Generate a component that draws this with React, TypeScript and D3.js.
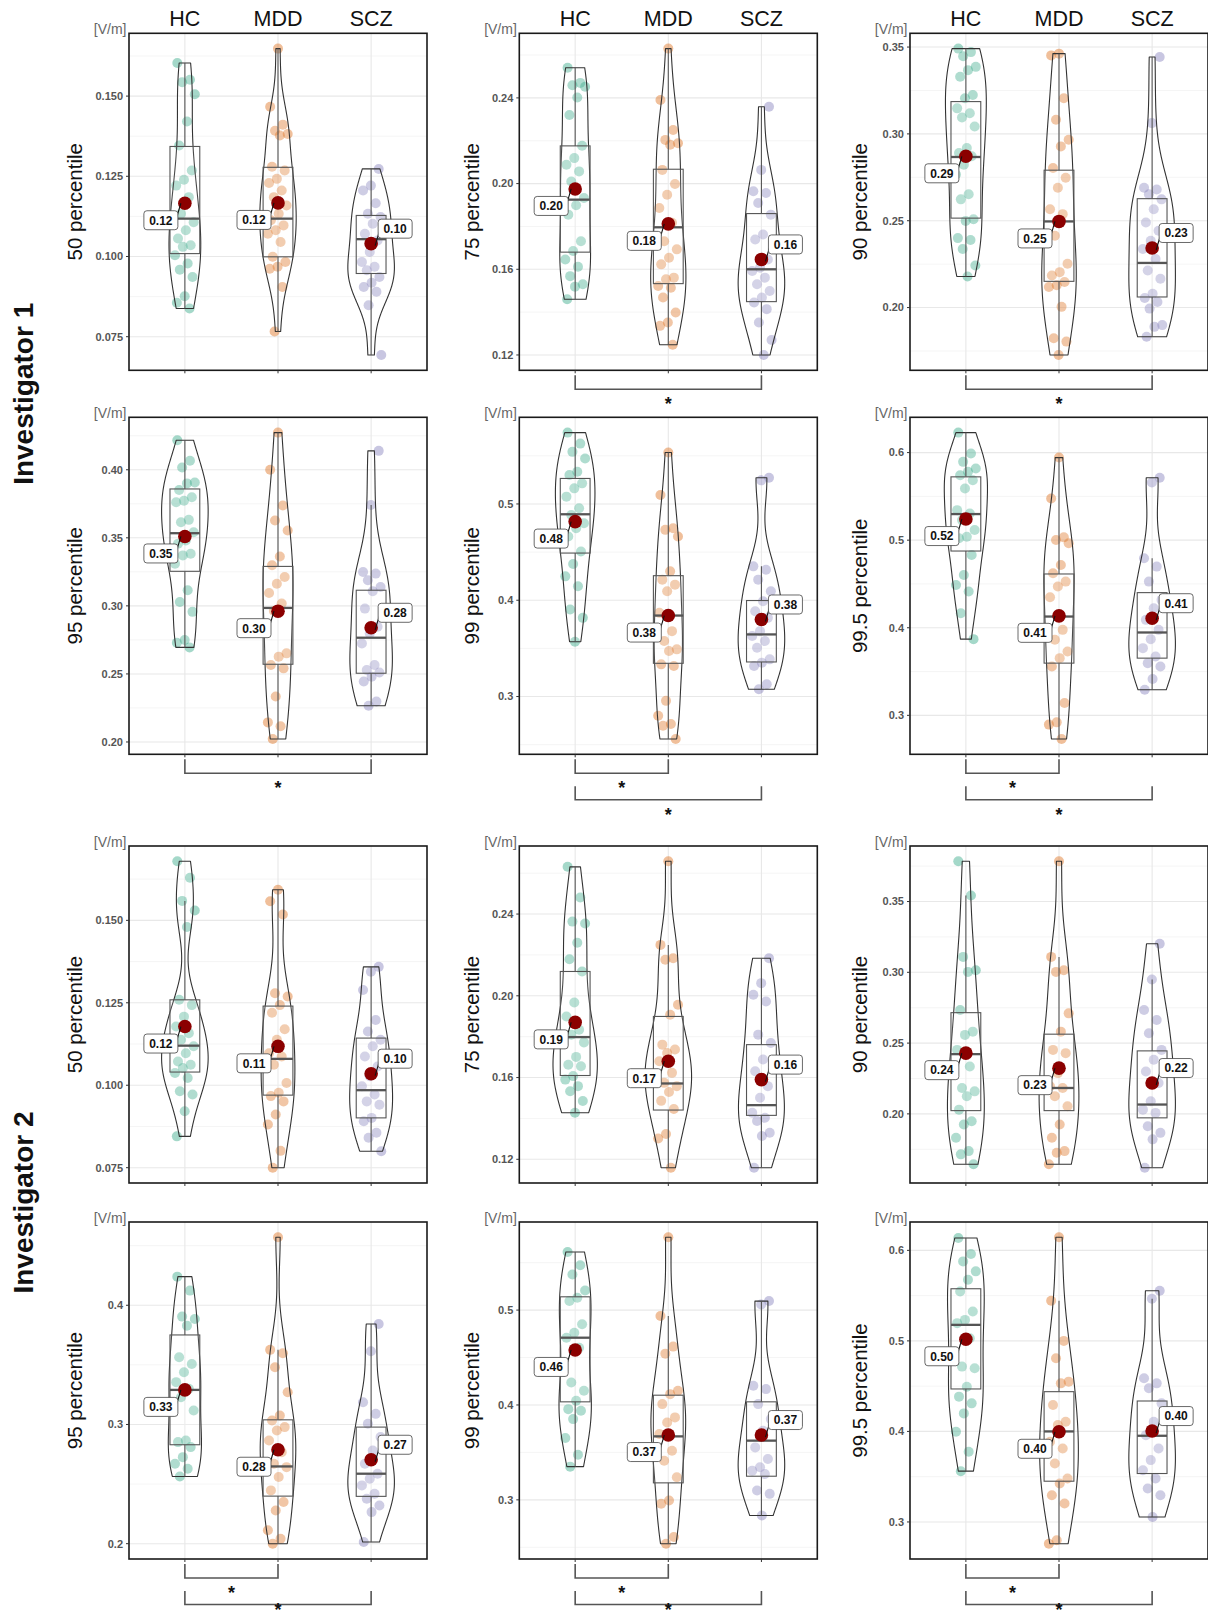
import React from "react";
import * as d3 from "d3";

const groups = ["HC", "MDD", "SCZ"];
const groupColors = ["#1B9E77", "#D95F02", "#7570B3"];
const rowLabels = ["Investigator 1", "Investigator 2"];

// ---------- Investigator 1, 50 percentile ----------
const i1_50_HC = [0.1603,0.1551,0.1543,0.1506,0.1421,0.1346,0.1268,0.1239,0.1221,0.1185,0.1133,0.1107,0.1082,0.1056,0.1035,0.1030,0.1004,0.0978,0.0959,0.0936,0.0876,0.0856,0.0838];
const i1_50_MDD = [0.1648,0.1467,0.1411,0.1392,0.1382,0.1377,0.1280,0.1268,0.1242,0.1229,0.1206,0.1185,0.1159,0.1133,0.1113,0.1097,0.1082,0.1071,0.1045,0.0999,0.0983,0.0968,0.0962,0.0905,0.0766];
const i1_50_SCZ = [0.1273,0.1221,0.1206,0.1166,0.1133,0.1123,0.1102,0.1071,0.1050,0.1014,0.0983,0.0968,0.0957,0.0936,0.0918,0.0905,0.0890,0.0848,0.0693];
const i1_50_q1 = [0.1009, 0.0999, 0.0947];
const i1_50_med = [0.1118, 0.1118, 0.1054];
const i1_50_q3 = [0.1343, 0.1278, 0.1128];
const i1_50_mean = [0.1166, 0.1167, 0.1040];
const i1_50_ticks = ["0.075", "0.100", "0.125", "0.150"];
const i1_50_sig: string[][] = [];

// ---------- Investigator 1, 75 percentile ----------
const i1_75_HC = [0.2541,0.2470,0.2459,0.2452,0.2402,0.2320,0.2177,0.2119,0.2088,0.2057,0.2010,0.1933,0.1899,0.1855,0.1731,0.1685,0.1646,0.1612,0.1568,0.1530,0.1519,0.1460];
const i1_75_MDD = [0.2630,0.2390,0.2250,0.2204,0.2188,0.2181,0.2064,0.1998,0.1948,0.1886,0.1817,0.1731,0.1693,0.1654,0.1623,0.1561,0.1553,0.1522,0.1514,0.1468,0.1398,0.1352,0.1336,0.1248];
const i1_75_SCZ = [0.2359,0.2064,0.1964,0.1956,0.1909,0.1855,0.1762,0.1739,0.1646,0.1607,0.1592,0.1561,0.1530,0.1499,0.1468,0.1445,0.1414,0.1352,0.1270,0.1200];
const i1_75_q1 = [0.1680, 0.1533, 0.1449];
const i1_75_med = [0.1925, 0.1796, 0.1600];
const i1_75_q3 = [0.2176, 0.2067, 0.1860];
const i1_75_mean = [0.1975, 0.1812, 0.1646];
const i1_75_ticks = ["0.12", "0.16", "0.20", "0.24"];
const i1_75_sig = [["HC", "SCZ"]];

// ---------- Investigator 1, 90 percentile ----------
const i1_90_HC = [0.3491,0.3471,0.3447,0.3386,0.3367,0.3329,0.3224,0.3205,0.3147,0.3119,0.3094,0.3043,0.2919,0.2890,0.2871,0.2823,0.2766,0.2652,0.2623,0.2509,0.2499,0.2400,0.2389,0.2337,0.2242,0.2179];
const i1_90_MDD = [0.3462,0.3452,0.3205,0.3081,0.2966,0.2928,0.2804,0.2747,0.2690,0.2566,0.2538,0.2414,0.2252,0.2204,0.2185,0.2147,0.2128,0.2118,0.2004,0.1823,0.1804,0.1727];
const i1_90_SCZ = [0.3443,0.3062,0.2690,0.2680,0.2652,0.2623,0.2566,0.2490,0.2442,0.2385,0.2337,0.2280,0.2213,0.2166,0.2080,0.2055,0.2032,0.1994,0.1899,0.1889,0.1832];
const i1_90_q1 = [0.2515, 0.2151, 0.2061];
const i1_90_med = [0.2867, 0.2496, 0.2257];
const i1_90_q3 = [0.3186, 0.2791, 0.2627];
const i1_90_mean = [0.2871, 0.2496, 0.2343];
const i1_90_ticks = ["0.20", "0.25", "0.30", "0.35"];
const i1_90_sig = [["HC", "SCZ"]];

// ---------- Investigator 1, 95 percentile ----------
const i1_95_HC = [0.4217,0.4066,0.4017,0.3907,0.3900,0.3851,0.3798,0.3773,0.3761,0.3632,0.3615,0.3541,0.3480,0.3456,0.3383,0.3371,0.3310,0.3115,0.3029,0.2956,0.2749,0.2729,0.2695];
const i1_95_MDD = [0.4273,0.4000,0.3737,0.3627,0.3554,0.3363,0.3298,0.3212,0.3163,0.3095,0.3017,0.2963,0.2651,0.2627,0.2566,0.2541,0.2334,0.2144,0.2115,0.2022];
const i1_95_SCZ = [0.4139,0.3741,0.3249,0.3237,0.3188,0.3139,0.3107,0.2980,0.2846,0.2797,0.2724,0.2566,0.2529,0.2510,0.2480,0.2444,0.2298,0.2266];
const i1_95_q1 = [0.3254, 0.2571, 0.2505];
const i1_95_med = [0.3534, 0.2985, 0.2766];
const i1_95_q3 = [0.3859, 0.3290, 0.3115];
const i1_95_mean = [0.3510, 0.2961, 0.2839];
const i1_95_ticks = ["0.20", "0.25", "0.30", "0.35", "0.40"];
const i1_95_sig = [["HC", "SCZ"]];

// ---------- Investigator 1, 99 percentile ----------
const i1_99_HC = [0.5741,0.5627,0.5541,0.5472,0.5334,0.5300,0.5214,0.5162,0.5076,0.4955,0.4886,0.4800,0.4748,0.4662,0.4507,0.4376,0.4248,0.4145,0.3903,0.3817,0.3569];
const i1_99_MDD = [0.5534,0.5093,0.4748,0.4731,0.4662,0.4300,0.4214,0.4162,0.4093,0.3869,0.3679,0.3576,0.3490,0.3472,0.3334,0.3317,0.2955,0.2800,0.2714,0.2697,0.2559];
const i1_99_SCZ = [0.5272,0.5245,0.4352,0.4317,0.4214,0.4093,0.3990,0.3886,0.3817,0.3679,0.3628,0.3576,0.3507,0.3386,0.3352,0.3317,0.3128,0.3076];
const i1_99_q1 = [0.4490, 0.3345, 0.3359];
const i1_99_med = [0.4893, 0.3841, 0.3645];
const i1_99_q3 = [0.5265, 0.4255, 0.3997];
const i1_99_mean = [0.4817, 0.3841, 0.3800];
const i1_99_ticks = ["0.3", "0.4", "0.5"];
const i1_99_sig = [["HC", "MDD"], ["HC", "SCZ"]];

// ---------- Investigator 1, 99.5 percentile ----------
const i1_995_HC = [0.6228,0.5989,0.5894,0.5818,0.5780,0.5742,0.5685,0.5590,0.5343,0.5305,0.5229,0.5116,0.5039,0.5021,0.4831,0.4603,0.4489,0.4413,0.4166,0.3870];
const i1_995_MDD = [0.5943,0.5476,0.5032,0.5002,0.4964,0.4717,0.4622,0.4527,0.4470,0.4348,0.3976,0.3862,0.3729,0.3653,0.3558,0.3141,0.2920,0.2894,0.2730];
const i1_995_SCZ = [0.5712,0.5659,0.4793,0.4698,0.4527,0.4318,0.4223,0.4090,0.3976,0.3870,0.3767,0.3672,0.3596,0.3558,0.3414,0.3292];
const i1_995_q1 = [0.4876, 0.3596, 0.3653];
const i1_995_med = [0.5298, 0.4128, 0.3946];
const i1_995_q3 = [0.5723, 0.4614, 0.4401];
const i1_995_mean = [0.5241, 0.4136, 0.4109];
const i1_995_ticks = ["0.3", "0.4", "0.5", "0.6"];
const i1_995_sig = [["HC", "MDD"], ["HC", "SCZ"]];

// ---------- Investigator 2, 50 percentile ----------
const i2_50_HC = [0.1679,0.1629,0.1559,0.1530,0.1480,0.1259,0.1243,0.1208,0.1178,0.1158,0.1138,0.1118,0.1097,0.1072,0.1062,0.1052,0.1037,0.1022,0.0982,0.0972,0.0921,0.0845];
const i2_50_MDD = [0.1593,0.1558,0.1518,0.1279,0.1269,0.1243,0.1220,0.1170,0.1138,0.1097,0.1087,0.1062,0.1007,0.0977,0.0967,0.0951,0.0911,0.0881,0.0801,0.0750];
const i2_50_SCZ = [0.1359,0.1344,0.1289,0.1198,0.1163,0.1138,0.1118,0.1087,0.1057,0.1027,0.0997,0.0972,0.0951,0.0941,0.0901,0.0891,0.0856,0.0841,0.0800];
const i2_50_q1 = [0.1040, 0.0970, 0.0901];
const i2_50_med = [0.1120, 0.1080, 0.0985];
const i2_50_q3 = [0.1259, 0.1240, 0.1143];
const i2_50_mean = [0.1178, 0.1118, 0.1035];
const i2_50_ticks = ["0.075", "0.100", "0.125", "0.150"];
const i2_50_sig: string[][] = [];

// ---------- Investigator 2, 75 percentile ----------
const i2_75_HC = [0.2631,0.2481,0.2363,0.2354,0.2260,0.2179,0.2119,0.1967,0.1899,0.1834,0.1810,0.1772,0.1701,0.1663,0.1655,0.1607,0.1590,0.1558,0.1533,0.1485,0.1428];
const i2_75_MDD = [0.2658,0.2249,0.2184,0.2176,0.1956,0.1907,0.1761,0.1737,0.1720,0.1680,0.1623,0.1574,0.1558,0.1529,0.1486,0.1446,0.1324,0.1302,0.1159];
const i2_75_SCZ = [0.2184,0.2062,0.2005,0.1972,0.1810,0.1769,0.1688,0.1631,0.1558,0.1501,0.1428,0.1403,0.1387,0.1330,0.1314,0.1159];
const i2_75_q1 = [0.1610, 0.1441, 0.1415];
const i2_75_med = [0.1798, 0.1571, 0.1465];
const i2_75_q3 = [0.2119, 0.1899, 0.1761];
const i2_75_mean = [0.1870, 0.1680, 0.1590];
const i2_75_ticks = ["0.12", "0.16", "0.20", "0.24"];
const i2_75_sig: string[][] = [];

// ---------- Investigator 2, 90 percentile ----------
const i2_90_HC = [0.3784,0.3542,0.3109,0.3015,0.3003,0.2734,0.2581,0.2558,0.2452,0.2335,0.2183,0.2159,0.2124,0.2030,0.1948,0.1925,0.1831,0.1737,0.1714,0.1644];
const i2_90_MDD = [0.3784,0.3109,0.3015,0.3003,0.2710,0.2581,0.2452,0.2429,0.2288,0.2195,0.2183,0.2124,0.2054,0.1925,0.1831,0.1737,0.1726,0.1644];
const i2_90_SCZ = [0.3202,0.2949,0.2734,0.2663,0.2570,0.2452,0.2382,0.2300,0.2218,0.2089,0.2030,0.2007,0.1913,0.1866,0.1820,0.1620];
const i2_90_q1 = [0.2023, 0.2023, 0.1972];
const i2_90_med = [0.2422, 0.2183, 0.2066];
const i2_90_q3 = [0.2715, 0.2563, 0.2445];
const i2_90_mean = [0.2429, 0.2323, 0.2218];
const i2_90_ticks = ["0.20", "0.25", "0.30", "0.35"];
const i2_90_sig: string[][] = [];

// ---------- Investigator 2, 95 percentile ----------
const i2_95_HC = [0.4240,0.4123,0.3905,0.3885,0.3829,0.3564,0.3508,0.3438,0.3355,0.3299,0.3229,0.3117,0.2866,0.2852,0.2810,0.2726,0.2670,0.2628,0.2564];
const i2_95_MDD = [0.4570,0.3626,0.3598,0.3480,0.3271,0.3075,0.3033,0.2978,0.2950,0.2866,0.2768,0.2670,0.2642,0.2559,0.2447,0.2349,0.2279,0.2112,0.2042,0.2000];
const i2_95_SCZ = [0.3843,0.3614,0.3187,0.3089,0.3006,0.2894,0.2782,0.2670,0.2587,0.2545,0.2489,0.2419,0.2377,0.2321,0.2265,0.2014];
const i2_95_q1 = [0.2830, 0.2399, 0.2397];
const i2_95_med = [0.3290, 0.2648, 0.2587];
const i2_95_q3 = [0.3751, 0.3039, 0.2978];
const i2_95_mean = [0.3290, 0.2788, 0.2704];
const i2_95_ticks = ["0.2", "0.3", "0.4"];
const i2_95_sig = [["HC", "MDD"], ["HC", "SCZ"]];

// ---------- Investigator 2, 99 percentile ----------
const i2_99_HC = [0.5613,0.5473,0.5375,0.5207,0.5130,0.5095,0.4850,0.4762,0.4709,0.4604,0.4237,0.4149,0.4044,0.3956,0.3939,0.3851,0.3652,0.3476,0.3350];
const i2_99_MDD = [0.5767,0.4937,0.4615,0.4541,0.4149,0.4114,0.4009,0.3869,0.3816,0.3694,0.3518,0.3413,0.3238,0.2993,0.2958,0.2608,0.2538];
const i2_99_SCZ = [0.5095,0.5060,0.4202,0.4167,0.4009,0.3851,0.3729,0.3553,0.3431,0.3343,0.3308,0.3273,0.3098,0.3063,0.2835];
const i2_99_q1 = [0.4033, 0.3179, 0.3249];
const i2_99_med = [0.4709, 0.3669, 0.3624];
const i2_99_q3 = [0.5140, 0.4103, 0.4033];
const i2_99_mean = [0.4580, 0.3683, 0.3683];
const i2_99_ticks = ["0.3", "0.4", "0.5"];
const i2_99_sig = [["HC", "MDD"], ["HC", "SCZ"]];

// ---------- Investigator 2, 99.5 percentile ----------
const i2_995_HC = [0.6137,0.5959,0.5878,0.5768,0.5675,0.5546,0.5325,0.5232,0.5196,0.5030,0.4716,0.4697,0.4494,0.4384,0.4310,0.4199,0.3996,0.3775,0.3561];
const i2_995_MDD = [0.6144,0.5443,0.5000,0.4808,0.4550,0.4531,0.4292,0.4107,0.4070,0.3886,0.3812,0.3646,0.3480,0.3424,0.3295,0.3203,0.2797,0.2760];
const i2_995_SCZ = [0.5553,0.5465,0.4587,0.4531,0.4476,0.4310,0.4107,0.3959,0.3812,0.3683,0.3572,0.3480,0.3369,0.3295,0.3055];
const i2_995_q1 = [0.4469, 0.3450, 0.3535];
const i2_995_med = [0.5177, 0.4000, 0.3952];
const i2_995_q3 = [0.5576, 0.4439, 0.4336];
const i2_995_mean = [0.5018, 0.3996, 0.4004];
const i2_995_ticks = ["0.3", "0.4", "0.5", "0.6"];
const i2_995_sig = [["HC", "MDD"], ["HC", "SCZ"]];

// ---------- assembled panel list ----------
const panels = [
  { row: 0, col: 0, title: "50 percentile", data: [i1_50_HC, i1_50_MDD, i1_50_SCZ], q1: i1_50_q1, med: i1_50_med, q3: i1_50_q3, mean: i1_50_mean, ticks: i1_50_ticks, sig: i1_50_sig },
  { row: 0, col: 1, title: "75 percentile", data: [i1_75_HC, i1_75_MDD, i1_75_SCZ], q1: i1_75_q1, med: i1_75_med, q3: i1_75_q3, mean: i1_75_mean, ticks: i1_75_ticks, sig: i1_75_sig },
  { row: 0, col: 2, title: "90 percentile", data: [i1_90_HC, i1_90_MDD, i1_90_SCZ], q1: i1_90_q1, med: i1_90_med, q3: i1_90_q3, mean: i1_90_mean, ticks: i1_90_ticks, sig: i1_90_sig },
  { row: 1, col: 0, title: "95 percentile", data: [i1_95_HC, i1_95_MDD, i1_95_SCZ], q1: i1_95_q1, med: i1_95_med, q3: i1_95_q3, mean: i1_95_mean, ticks: i1_95_ticks, sig: i1_95_sig },
  { row: 1, col: 1, title: "99 percentile", data: [i1_99_HC, i1_99_MDD, i1_99_SCZ], q1: i1_99_q1, med: i1_99_med, q3: i1_99_q3, mean: i1_99_mean, ticks: i1_99_ticks, sig: i1_99_sig },
  { row: 1, col: 2, title: "99.5 percentile", data: [i1_995_HC, i1_995_MDD, i1_995_SCZ], q1: i1_995_q1, med: i1_995_med, q3: i1_995_q3, mean: i1_995_mean, ticks: i1_995_ticks, sig: i1_995_sig },
  { row: 2, col: 0, title: "50 percentile", data: [i2_50_HC, i2_50_MDD, i2_50_SCZ], q1: i2_50_q1, med: i2_50_med, q3: i2_50_q3, mean: i2_50_mean, ticks: i2_50_ticks, sig: i2_50_sig },
  { row: 2, col: 1, title: "75 percentile", data: [i2_75_HC, i2_75_MDD, i2_75_SCZ], q1: i2_75_q1, med: i2_75_med, q3: i2_75_q3, mean: i2_75_mean, ticks: i2_75_ticks, sig: i2_75_sig },
  { row: 2, col: 2, title: "90 percentile", data: [i2_90_HC, i2_90_MDD, i2_90_SCZ], q1: i2_90_q1, med: i2_90_med, q3: i2_90_q3, mean: i2_90_mean, ticks: i2_90_ticks, sig: i2_90_sig },
  { row: 3, col: 0, title: "95 percentile", data: [i2_95_HC, i2_95_MDD, i2_95_SCZ], q1: i2_95_q1, med: i2_95_med, q3: i2_95_q3, mean: i2_95_mean, ticks: i2_95_ticks, sig: i2_95_sig },
  { row: 3, col: 1, title: "99 percentile", data: [i2_99_HC, i2_99_MDD, i2_99_SCZ], q1: i2_99_q1, med: i2_99_med, q3: i2_99_q3, mean: i2_99_mean, ticks: i2_99_ticks, sig: i2_99_sig },
  { row: 3, col: 2, title: "99.5 percentile", data: [i2_995_HC, i2_995_MDD, i2_995_SCZ], q1: i2_995_q1, med: i2_995_med, q3: i2_995_q3, mean: i2_995_mean, ticks: i2_995_ticks, sig: i2_995_sig },
];

// ---------- layout ----------
const FONT = "'Liberation Sans', Arial, Helvetica, sans-serif";
const PW = 298;
const PH = 337;
const colLeft = [129, 519.3, 910];
const rowTop = [33.3, 417.3, 846, 1222];
const titleBaseX = [82, 478.5, 867];

function kde(values: number[]) {
  const sorted = values.slice().sort((a, b) => a - b);
  const n = sorted.length;
  const sd = d3.deviation(sorted) || 0;
  const iqr = (d3.quantile(sorted, 0.75) || 0) - (d3.quantile(sorted, 0.25) || 0);
  let lo = Math.min(sd, iqr / 1.34);
  if (!(lo > 0)) lo = sd || 1e-3;
  const bw = 0.9 * lo * Math.pow(n, -0.2);
  const mn = sorted[0];
  const mx = sorted[n - 1];
  const N = 200;
  const out: [number, number][] = [];
  for (let i = 0; i < N; i++) {
    const v = mn + ((mx - mn) * i) / (N - 1);
    let s = 0;
    for (const x of sorted) {
      const u = (v - x) / bw;
      s += Math.exp(-0.5 * u * u);
    }
    out.push([v, s / (n * bw * Math.sqrt(2 * Math.PI))]);
  }
  return out;
}

function jit(i: number, g: number) {
  const f = (i * 0.6180339887 + g * 0.37 + 0.13) % 1;
  return f - 0.5;
}

function Panel({ p }: { p: any }) {
  const left = colLeft[p.col];
  const top = rowTop[p.row];
  const bottom = top + PH;
  const x = d3.scalePoint<string>().domain(groups).range([left, left + PW]).padding(0.6);
  const step = x.step();
  const all: number[] = p.data.flat();
  const [mn, mx] = d3.extent(all) as [number, number];
  const pad = (mx - mn) * 0.05;
  const y = d3.scaleLinear().domain([mn - pad, mx + pad]).range([bottom, top]);
  const ticks = p.ticks.map(Number);
  const tstep = ticks[1] - ticks[0];
  const minor: number[] = [];
  for (let k = -1; k <= ticks.length + 1; k++) {
    const v = ticks[0] + tstep * (k + 0.5);
    if (v > mn - pad && v < mx + pad) minor.push(v);
  }
  const dens = p.data.map((vals: number[]) => kde(vals));
  const maxD = d3.max(dens, (d: [number, number][]) => d3.max(d, (e) => e[1])) as number;
  const halfMax = 0.25 * step;
  const boxHalf = 0.16 * step;

  return (
    <g>
      <rect x={left} y={top} width={PW} height={PH} fill="#fff" />
      {minor.map((v, i) => (
        <line key={"mi" + i} x1={left} x2={left + PW} y1={y(v)} y2={y(v)} stroke="#f3f3f3" strokeWidth={0.8} />
      ))}
      {ticks.map((v: number, i: number) => (
        <line key={"ma" + i} x1={left} x2={left + PW} y1={y(v)} y2={y(v)} stroke="#e8e8e8" strokeWidth={1.1} />
      ))}
      {groups.map((g) => (
        <line key={"vg" + g} x1={x(g)} x2={x(g)} y1={top} y2={bottom} stroke="#e8e8e8" strokeWidth={1.1} />
      ))}

      {/* jittered points */}
      {p.data.map((vals: number[], gi: number) =>
        vals.map((v, i) => (
          <circle
            key={"pt" + gi + "_" + i}
            cx={(x(groups[gi]) as number) + jit(i, gi) * 0.22 * step}
            cy={y(v)}
            r={5}
            fill={groupColors[gi]}
            fillOpacity={0.4}
          />
        ))
      )}

      {/* violins */}
      {dens.map((d: [number, number][], gi: number) => {
        const cx = x(groups[gi]) as number;
        const area = d3
          .area<[number, number]>()
          .x0((e) => cx - (e[1] / maxD) * halfMax)
          .x1((e) => cx + (e[1] / maxD) * halfMax)
          .y((e) => y(e[0]));
        return (
          <path key={"vi" + gi} d={area(d) || ""} fill="#fff" fillOpacity={0.12} stroke="#333" strokeWidth={1.1} strokeLinejoin="round" />
        );
      })}

      {/* boxplots */}
      {p.data.map((vals: number[], gi: number) => {
        const cx = x(groups[gi]) as number;
        const q1 = p.q1[gi];
        const q3 = p.q3[gi];
        const iqr = q3 - q1;
        const hiW = d3.max(vals.filter((v) => v <= q3 + 1.5 * iqr)) as number;
        const loW = d3.min(vals.filter((v) => v >= q1 - 1.5 * iqr)) as number;
        return (
          <g key={"bx" + gi}>
            <line x1={cx} x2={cx} y1={y(q3)} y2={y(hiW)} stroke="#555" strokeWidth={1.1} />
            <line x1={cx} x2={cx} y1={y(q1)} y2={y(loW)} stroke="#555" strokeWidth={1.1} />
            <rect x={cx - boxHalf} y={y(q3)} width={2 * boxHalf} height={y(q1) - y(q3)} fill="#fff" fillOpacity={0.12} stroke="#555" strokeWidth={1.1} />
            <line x1={cx - boxHalf} x2={cx + boxHalf} y1={y(p.med[gi])} y2={y(p.med[gi])} stroke="#555" strokeWidth={2.3} />
          </g>
        );
      })}

      {/* means */}
      {p.mean.map((m: number, gi: number) => (
        <circle key={"mn" + gi} cx={x(groups[gi])} cy={y(m)} r={6.8} fill="#8B0000" />
      ))}

      {/* mean labels */}
      {p.mean.map((m: number, gi: number) => {
        const cx = x(groups[gi]) as number;
        const cy = y(m);
        const right = gi === 2;
        const bw = 34;
        const bh = 19;
        const lx = right ? cx + 24 : cx - 24;
        const ly = right ? cy - 15 : cy + 17;
        const bx = lx - bw / 2;
        const by = ly - bh / 2;
        const sx1 = right ? cx + 4 : cx - 4;
        const sy1 = right ? cy + 2 : cy;
        const sx2 = right ? bx + 1 : bx + bw - 1;
        const sy2 = right ? by + bh - 6 : by + 6;
        return (
          <g key={"lb" + gi}>
            <line x1={sx1} y1={sy1} x2={sx2} y2={sy2} stroke="#111" strokeWidth={1.1} />
            <rect x={bx} y={by} width={bw} height={bh} rx={3} fill="#fff" stroke="#444" strokeWidth={0.8} />
            <text x={lx} y={ly} dy="0.36em" textAnchor="middle" fontFamily={FONT} fontWeight="bold" fontSize={12} fill="#111">
              {d3.format(".2f")(m)}
            </text>
          </g>
        );
      })}

      {/* border */}
      <rect x={left} y={top} width={PW} height={PH} fill="none" stroke="#1a1a1a" strokeWidth={1.6} />

      {/* y ticks */}
      {ticks.map((v: number, i: number) => (
        <g key={"yt" + i}>
          <line x1={left - 3} x2={left} y1={y(v)} y2={y(v)} stroke="#333" strokeWidth={1} />
          <text x={left - 6} y={y(v)} dy="0.35em" textAnchor="end" fontFamily={FONT} fontWeight="bold" fontSize={11} fill="#555">
            {p.ticks[i]}
          </text>
        </g>
      ))}
      {groups.map((g) => (
        <line key={"xt" + g} x1={x(g)} x2={x(g)} y1={bottom} y2={bottom + 3} stroke="#333" strokeWidth={1} />
      ))}

      {/* unit */}
      <text x={left - 2.5} y={top + 1} textAnchor="end" fontFamily={FONT} fontSize={14} fill="#666">
        [V/m]
      </text>

      {/* y title */}
      <text
        transform={`translate(${titleBaseX[p.col]},${(top + bottom) / 2}) rotate(-90)`}
        textAnchor="middle"
        fontFamily={FONT}
        fontSize={20.5}
        fill="#111"
      >
        {p.title}
      </text>

      {/* column headers */}
      {p.row === 0 &&
        groups.map((g) => (
          <text key={"hd" + g} x={x(g)} y={25.5} textAnchor="middle" fontFamily={FONT} fontSize={21.5} fill="#111">
            {g}
          </text>
        ))}

      {/* significance brackets */}
      {p.sig.map((pair: string[], k: number) => {
        const x1 = x(pair[0]) as number;
        const x2 = x(pair[1]) as number;
        const yTop = bottom + 5 + 27 * k;
        const yH = bottom + 19 + 26.5 * k;
        const yStar = bottom + 29.5 + 26.5 * k;
        return (
          <g key={"sg" + k}>
            <path d={`M${x1},${yTop}V${yH}H${x2}V${yTop}`} fill="none" stroke="#555" strokeWidth={1.6} />
            <text x={(x1 + x2) / 2} y={Math.min(yStar + 10.5, 1615.5)} textAnchor="middle" fontFamily={FONT} fontWeight="bold" fontSize={18} fill="#111">
              *
            </text>
          </g>
        );
      })}
    </g>
  );
}

export default function App() {
  return (
    <svg
      width={1208}
      height={1620}
      viewBox="0 0 1208 1620"
      style={{ position: "absolute", left: 0, top: 0, background: "#fff" }}
    >
      <rect x={0} y={0} width={1208} height={1620} fill="#fff" />
      {panels.map((p, i) => (
        <Panel key={i} p={p} />
      ))}
      {rowLabels.map((lab, i) => {
        const cy = i === 0 ? (rowTop[0] + rowTop[1] + PH) / 2 : (rowTop[2] + rowTop[3] + PH) / 2;
        return (
          <text
            key={lab}
            transform={`translate(33,${cy}) rotate(-90)`}
            textAnchor="middle"
            fontFamily={FONT}
            fontWeight="bold"
            fontSize={28}
            fill="#111"
          >
            {lab}
          </text>
        );
      })}
    </svg>
  );
}
